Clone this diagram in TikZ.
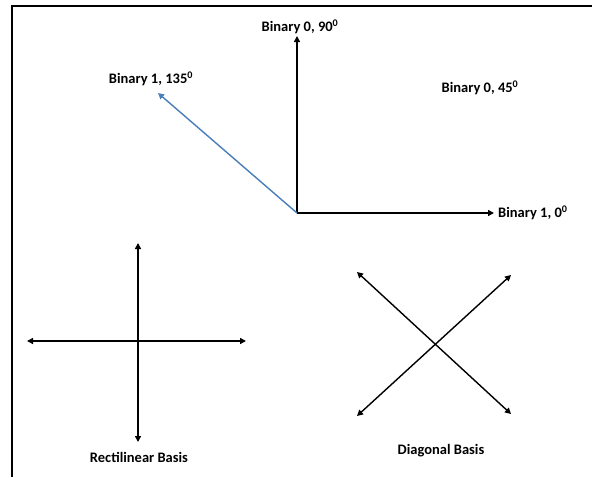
\documentclass[tikz,border=0pt]{standalone}
\usepackage{fontspec}
\setmainfont{Carlito}
\usetikzlibrary{arrows.meta,positioning}
\definecolor{vecblue}{RGB}{74,126,187}

\begin{document}
\begin{tikzpicture}[x=1pt, y=-1pt,
      lbl/.style={font=\fontsize{14.5}{16}\selectfont\bfseries, inner sep=1pt},
      arr/.style={-{Triangle[length=6pt,width=6pt]}, line width=1.4pt},
      dbl/.style={{Triangle[length=6pt,width=6pt]}-{Triangle[length=6pt,width=6pt]},
                  line width=1.4pt}]
    \useasboundingbox (0,0) rectangle (592,477);
    % frame (top and left edge only)
    \draw[line width=1.6pt] (12,477) -- (12,6) -- (592,6);

    % polarisation states
    \coordinate (o) at (297,213);
    \coordinate (t90) at (297,36);
    \coordinate (t0) at (494,213);
    \coordinate (t135) at (158,93);
    \draw[arr] (o) -- (t90);
    \draw[arr] (o) -- (t0);
    \draw[arr, draw=vecblue, fill=vecblue] (o) -- (t135);
    \node[lbl, above=1pt of t90, xshift=3pt] (l90) {Binary 0, 90\textsuperscript{0}};
    \node[lbl, right=3pt of t0] (l0) {Binary 1, 0\textsuperscript{0}};
    \node[lbl] (l135) at (151,79) {Binary 1, 135\textsuperscript{0}};
    \node[lbl] (l45) at (480,88) {Binary 0, 45\textsuperscript{0}};

    % rectilinear basis
    \coordinate (rn) at (138,243);
    \coordinate (rs) at (138,442);
    \coordinate (rw) at (27,341);
    \coordinate (re) at (246,341);
    \draw[dbl] (rn) -- (rs);
    \draw[dbl] (rw) -- (re);
    \node[lbl] (rect) at (139,457) {Rectilinear Basis};

    % diagonal basis
    \coordinate (dnw) at (357,272);
    \coordinate (dse) at (511,414);
    \coordinate (dsw) at (357,416);
    \coordinate (dne) at (511,275);
    \draw[dbl] (dnw) -- (dse);
    \draw[dbl] (dsw) -- (dne);
    \node[lbl] (diag) at (441,451) {Diagonal Basis};
\end{tikzpicture}
\end{document}
